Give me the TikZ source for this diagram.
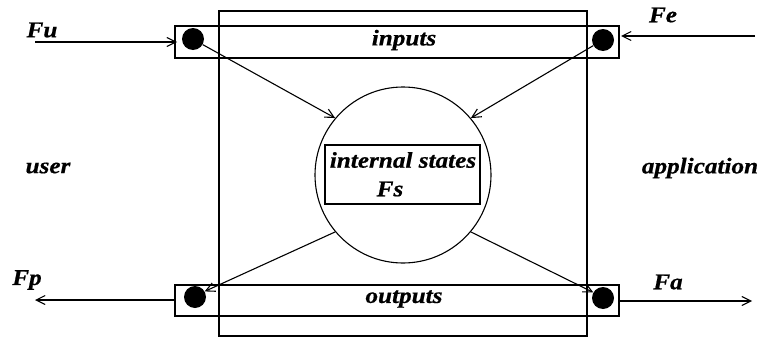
\documentclass[tikz,border=0pt]{standalone}
\usepackage{fontspec}
\newfontfamily\lblfont{Liberation Serif}[FakeStretch=1.12,FakeBold=0.6]
\usetikzlibrary{arrows.meta}
\tikzset{
  lbl/.style={font=\lblfont\bfseries\itshape\fontsize{22.5}{24}\selectfont, inner sep=0pt},
  bar/.style={draw, line width=1.1pt, minimum width=444pt, inner sep=0pt},
  dotnode/.style={circle, fill=black, minimum size=22pt, inner sep=0pt},
  arr/.style={line width=1.1pt, -{Straight Barb[length=9pt,width=9pt]}},
}
\begin{document}
\begin{tikzpicture}[x=1pt,y=-1pt]
\useasboundingbox (0,0) rectangle (761,340);
% big box
\node[draw, line width=1.1pt, minimum width=368pt, minimum height=325pt, inner sep=0pt] (box) at (403,173.5) {};
% bars
\node[bar, minimum height=32pt] (inbar) at (397,42) {};
\node[bar, minimum height=31pt] (outbar) at (397,300.5) {};
\node[lbl] (inputs) at (404,40) {inputs};
\node[lbl] (outputs) at (404,299) {outputs};
% circle
\node[circle, draw, line width=1.1pt, minimum size=176pt, inner sep=0pt] (circ) at (403,175) {};
\node[draw, line width=2.8pt, minimum width=155pt, minimum height=59pt, inner sep=0pt] (inner) at (402.5,174.5) {};
\node[lbl] (is) at (403,160) {internal states};
\node[lbl] (fs) at (390,189) {Fs};
% dots
\node[dotnode] (du) at (193,39) {};
\node[dotnode] (de) at (603,40) {};
\node[dotnode] (dp) at (195,297) {};
\node[dotnode] (da) at (603,298) {};
% free ends
\coordinate (cu) at (35,42);
\coordinate (ce) at (755,36);
\coordinate (cp) at (35,300);
\coordinate (ca) at (752,301);
\coordinate (bu) at (177,42);
\coordinate (be) at (621,36);
\coordinate (bp) at (175,300);
\coordinate (ba) at (619,301);
% arrows
\draw[arr] (cu) -- (bu);
\draw[arr] (ce) -- (be);
\draw[arr] (bp) -- (cp);
\draw[arr] (ba) -- (ca);
\draw[arr] (du.-30) -- (circ.140);
\draw[arr] (de.210) -- (circ.40);
\draw[arr] (circ.220) -- (dp.30);
\draw[arr] (circ.320) -- (da.150);
% labels
\node[lbl] (fu) at (42,30) {Fu};
\node[lbl] (fe) at (663,15) {Fe};
\node[lbl] (fp) at (27,280) {Fp};
\node[lbl] (fa) at (668,282) {Fa};
\node[lbl] (user) at (48,168) {user};
\node[lbl] (app) at (700,168) {application};
\end{tikzpicture}
\end{document}
